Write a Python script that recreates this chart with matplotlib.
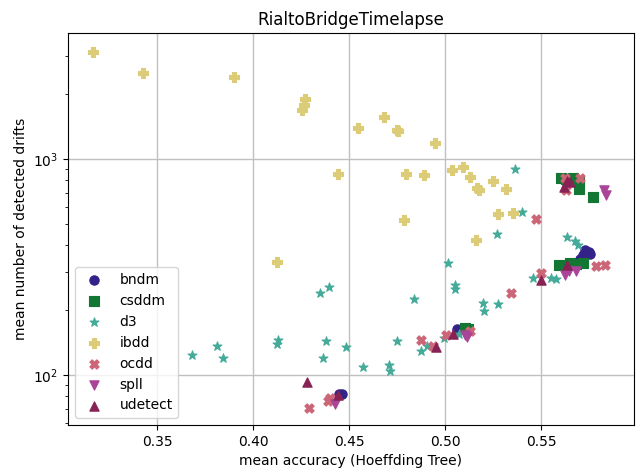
import matplotlib
matplotlib.use("Agg")
import matplotlib.pyplot as plt

# valores (acurácia média, nº médio de drifts)
bndm_x = [0.5725, 0.5745, 0.5715, 0.5700, 0.5755, 0.5060, 0.5090, 0.5110, 0.4464, 0.4448]
bndm_y = [380, 372, 358, 345, 365, 163, 165, 158, 81.7, 81.7]

csddm_x = [0.5600, 0.5630, 0.5662, 0.5693, 0.5693, 0.5770, 0.5589, 0.5651, 0.5680, 0.5714, 0.5104, 0.5120]
csddm_y = [820, 810, 822, 780, 725, 667, 323, 330, 328, 330, 165, 164]

d3_x = [0.3682, 0.3812, 0.3844, 0.4125, 0.4130, 0.4349, 0.4396, 0.4380, 0.4365, 0.4484,
        0.4573, 0.4708, 0.4714, 0.4750, 0.5016, 0.5052, 0.5052, 0.4839, 0.5198, 0.5203,
        0.5276, 0.4875, 0.4906, 0.4995, 0.5073, 0.5458, 0.5552, 0.5578, 0.5360, 0.5400,
        0.5270, 0.5635, 0.5677, 0.5688]
d3_y = [124, 136, 120, 139, 145, 240, 255, 144, 120, 135,
        109, 112, 105, 144, 330, 261, 250, 225, 215, 198,
        213, 129, 136, 148, 155, 281, 281, 278, 899, 569,
        450, 435, 417, 400]

ibdd_x = [0.3167, 0.3427, 0.3901, 0.4270, 0.4265, 0.4255, 0.4547, 0.4443, 0.4948, 0.4797,
          0.4890, 0.5036, 0.5094, 0.5130, 0.5167, 0.5177, 0.5250, 0.5318, 0.4786, 0.5276,
          0.5354, 0.5161, 0.4125, 0.4682, 0.4750, 0.4755]
ibdd_y = [3128, 2500, 2400, 1897, 1780, 1690, 1392, 852, 1186, 852,
          843, 889, 918, 825, 734, 718, 791, 726, 522, 556,
          563, 422, 334, 1565, 1362, 1350]

ocdd_x = [0.5474, 0.5625, 0.5703, 0.5630, 0.5495, 0.5786, 0.5833, 0.5339, 0.4875, 0.4938,
          0.5005, 0.5130, 0.4401, 0.4390, 0.4292]
ocdd_y = [528, 817, 817, 718, 297, 320, 323, 240, 145, 136,
          153, 160, 78.3, 76, 70.3]

spll_x = [0.5825, 0.5838, 0.5625, 0.5645, 0.5678, 0.5100, 0.5110, 0.4427]
spll_y = [720, 680, 292, 305, 305, 153, 150, 73.4]

udetect_x = [0.5635, 0.5615, 0.5646, 0.5635, 0.5495, 0.4953, 0.5042, 0.4281, 0.4443]
udetect_y = [791, 741, 786, 323, 276, 135, 155, 92.8, 80.8]

series = [
    ('bndm', bndm_x, bndm_y, '#332288', 'o'),
    ('csddm', csddm_x, csddm_y, '#117733', 's'),
    ('d3', d3_x, d3_y, '#44AA99', '*'),
    ('ibdd', ibdd_x, ibdd_y, '#DDCC77', 'P'),
    ('ocdd', ocdd_x, ocdd_y, '#CC6677', 'X'),
    ('spll', spll_x, spll_y, '#AA4499', 'v'),
    ('udetect', udetect_x, udetect_y, '#882255', '^'),
]

fig, ax = plt.subplots(figsize=(6.44, 4.73), dpi=100)
fig.subplots_adjust(left=0.1056, right=0.984, top=0.930, bottom=0.1015)

for nome, xs, ys, cor, marc in series:
    ax.scatter(xs, ys, c=cor, marker=marc, s=45, label=nome, zorder=3,
               edgecolors=cor, linewidths=0.8)

ax.set_yscale('log')
ax.set_xlim(0.3036, 0.598)
ax.set_ylim(58.8, 3830)
ax.set_xticks([0.35, 0.40, 0.45, 0.50, 0.55])
ax.grid(True, which='major', color='#c0c0c0', linewidth=1.0)
ax.set_axisbelow(True)

ax.set_title('RialtoBridgeTimelapse')
ax.set_xlabel('mean accuracy (Hoeffding Tree)')
ax.set_ylabel('mean number of detected drifts')
ax.legend(loc='lower left')

fig.savefig('out.png', dpi=100)
